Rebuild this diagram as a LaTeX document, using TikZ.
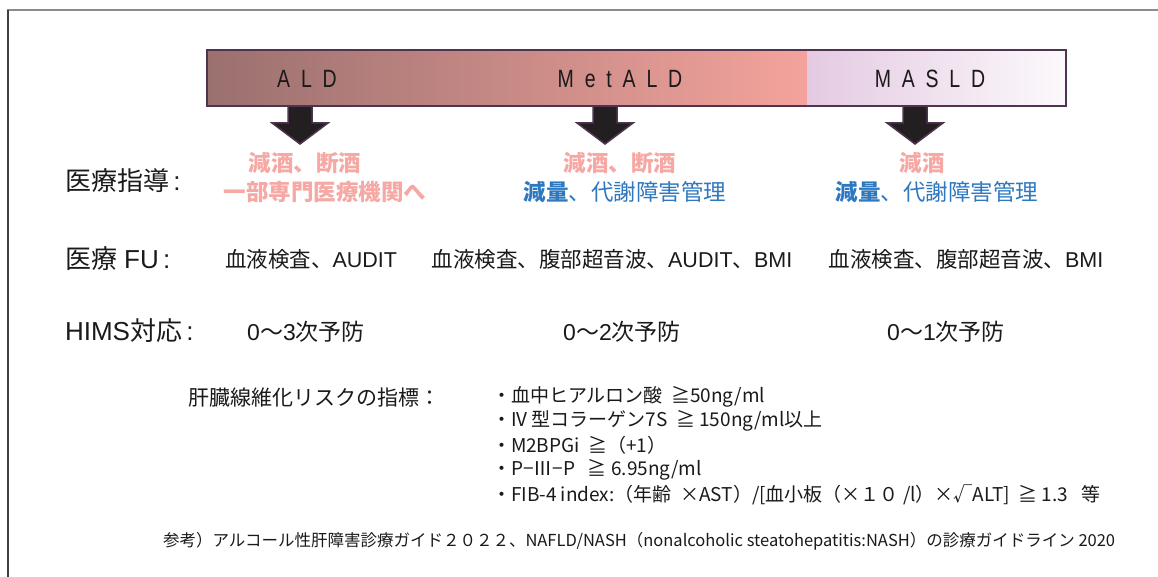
\documentclass[tikz,border=0pt]{standalone}
\usepackage{fontspec}
\setmainfont{Liberation Sans}
\newfontfamily\jp{Noto Sans CJK JP}
\newfontfamily\cond[FakeStretch=0.78]{Liberation Sans}
\definecolor{pinkc}{HTML}{F5A8A4}
\definecolor{bluec}{HTML}{2E78C0}
\definecolor{barline}{HTML}{4F3452}
\definecolor{arrowfill}{HTML}{231F20}
\definecolor{txt}{HTML}{1A1A1A}
\newcommand{\lat}[1]{{\normalfont #1}}
\tikzset{
  barlabel/.style={font=\cond\fontsize{25}{25}\selectfont, text=txt},
  rowlabel/.style={anchor=west, font=\jp\fontsize{26}{26}\selectfont, text=txt},
  pinktext/.style={font=\jp\bfseries\fontsize{22.5}{22.5}\selectfont, text=pinkc},
  bluetext/.style={font=\jp\fontsize{22.5}{22.5}\selectfont, text=bluec},
  cell/.style={font=\jp\fontsize{21.5}{21.5}\selectfont, text=txt},
  hims/.style={font=\jp\fontsize{23}{23}\selectfont, text=txt},
  indlabel/.style={anchor=west, font=\jp\fontsize{21}{21}\selectfont, text=txt},
  item/.style={anchor=west, font=\jp\fontsize{19}{19}\selectfont, text=txt},
  foot/.style={anchor=west, font=\jp\fontsize{16.5}{16.5}\selectfont, text=txt},
  downarrow/.style={fill=arrowfill, draw=barline, line width=1.5pt, line join=miter}
}
\begin{document}
\begin{tikzpicture}[x=1pt,y=-1pt, every node/.style={inner sep=0pt, outer sep=0pt}]
\useasboundingbox (0,0) rectangle (1158,577);
\fill[white] (0,0) rectangle (1158,577);
% frame
\draw[line width=2pt, draw=black!45] (7,10) -- (1158,10);
\draw[line width=1.5pt, draw=black!75] (8,10) -- (8,577);
% arrows
\foreach \x in {300,605,915}{
  \draw[downarrow] (\x-12,105) -- (\x+12,105) -- (\x+12,123) -- (\x+28,123) -- (\x,144) -- (\x-28,123) -- (\x-12,123) -- cycle;
}
% bar
\shade[left color={rgb,255:red,154;green,112;blue,111}, right color={rgb,255:red,244;green,163;blue,156}] (207,50) rectangle (807,106);
\shade[left color={rgb,255:red,228;green,202;blue,226}, right color={rgb,255:red,252;green,249;blue,252}] (807,50) rectangle (1066,106);
\node[draw=barline, line width=2.5pt, minimum width=859pt, minimum height=56pt, anchor=north west] (bar) at (207,50) {};
\node[barlabel] (ald) at (307,79) {A\ \ L\ \ D};
\node[barlabel] (metald) at (620,79) {M\ \ e\ \ t\ \ A\ \ L\ \ D};
\node[barlabel] (masld) at (930,79) {M\ \ A\ \ S\ \ L\ \ D};
% row 1
\node[rowlabel] (l1) at (65,181) {医療指導\lat{\fontsize{26}{26}\selectfont\,:}};
\node[pinktext] (a1) at (305,163) {減酒、断酒};
\node[pinktext] (a2) at (325,192) {一部専門医療機関へ};
\node[pinktext] (b1) at (620,163) {減酒、断酒};
\node[bluetext] (b2) at (625,192) {\textbf{減量}、代謝障害管理};
\node[pinktext] (c1) at (922,163) {減酒};
\node[bluetext] (c2) at (937,192) {\textbf{減量}、代謝障害管理};
% row 2
\node[rowlabel] (l2) at (65,259) {医療\lat{\fontsize{26}{26}\selectfont\ FU\,:}};
\node[cell] (a3) at (311,259) {血液検査、\lat{\fontsize{21.5}{21.5}\selectfont AUDIT}};
\node[cell] (b3) at (612,259) {血液検査、腹部超音波、\lat{\fontsize{21.5}{21.5}\selectfont AUDIT}、\lat{\fontsize{21.5}{21.5}\selectfont BMI}};
\node[cell] (c3) at (966,259) {血液検査、腹部超音波、\lat{\fontsize{21.5}{21.5}\selectfont BMI}};
% row 3
\node[rowlabel] (l3) at (65,331) {\lat{\fontsize{26}{26}\selectfont HIMS}対応\lat{\fontsize{26}{26}\selectfont\,:}};
\node[hims] (a4) at (306,332) {\lat{\fontsize{23}{23}\selectfont 0}〜\lat{\fontsize{23}{23}\selectfont 3}次予防};
\node[hims] (b4) at (622,332) {\lat{\fontsize{23}{23}\selectfont 0}〜\lat{\fontsize{23}{23}\selectfont 2}次予防};
\node[hims] (c4) at (946,332) {\lat{\fontsize{23}{23}\selectfont 0}〜\lat{\fontsize{23}{23}\selectfont 1}次予防};
% indicators
\node[indlabel] (ind) at (188,398) {肝臓線維化リスクの指標：};
\node[item] (i1) at (492,397) {・血中ヒアルロン酸\ \ ≧50ng/ml};
\node[item] (i2) at (492,421) {・IV 型コラーゲン7S\ \ ≧ 150ng/ml以上};
\node[item] (i3) at (492,445) {・M2BPGi\ \ ≧（+1）};
\node[item] (i4) at (492,470) {・P−Ⅲ−P\ \ \ ≧ 6.95ng/ml};
\node[item] (i5) at (492,495) {・FIB-4 index:（年齢\ \ ×AST）/[血小板（×１０ /l）×√ALT]\ \ ≧ 1.3\ \ \ 等};
% footer
\node[foot] (ref) at (163,541) {参考）アルコール性肝障害診療ガイド２０２２、NAFLD/NASH（nonalcoholic steatohepatitis:NASH）の診療ガイドライン 2020};
\end{tikzpicture}
\end{document}
